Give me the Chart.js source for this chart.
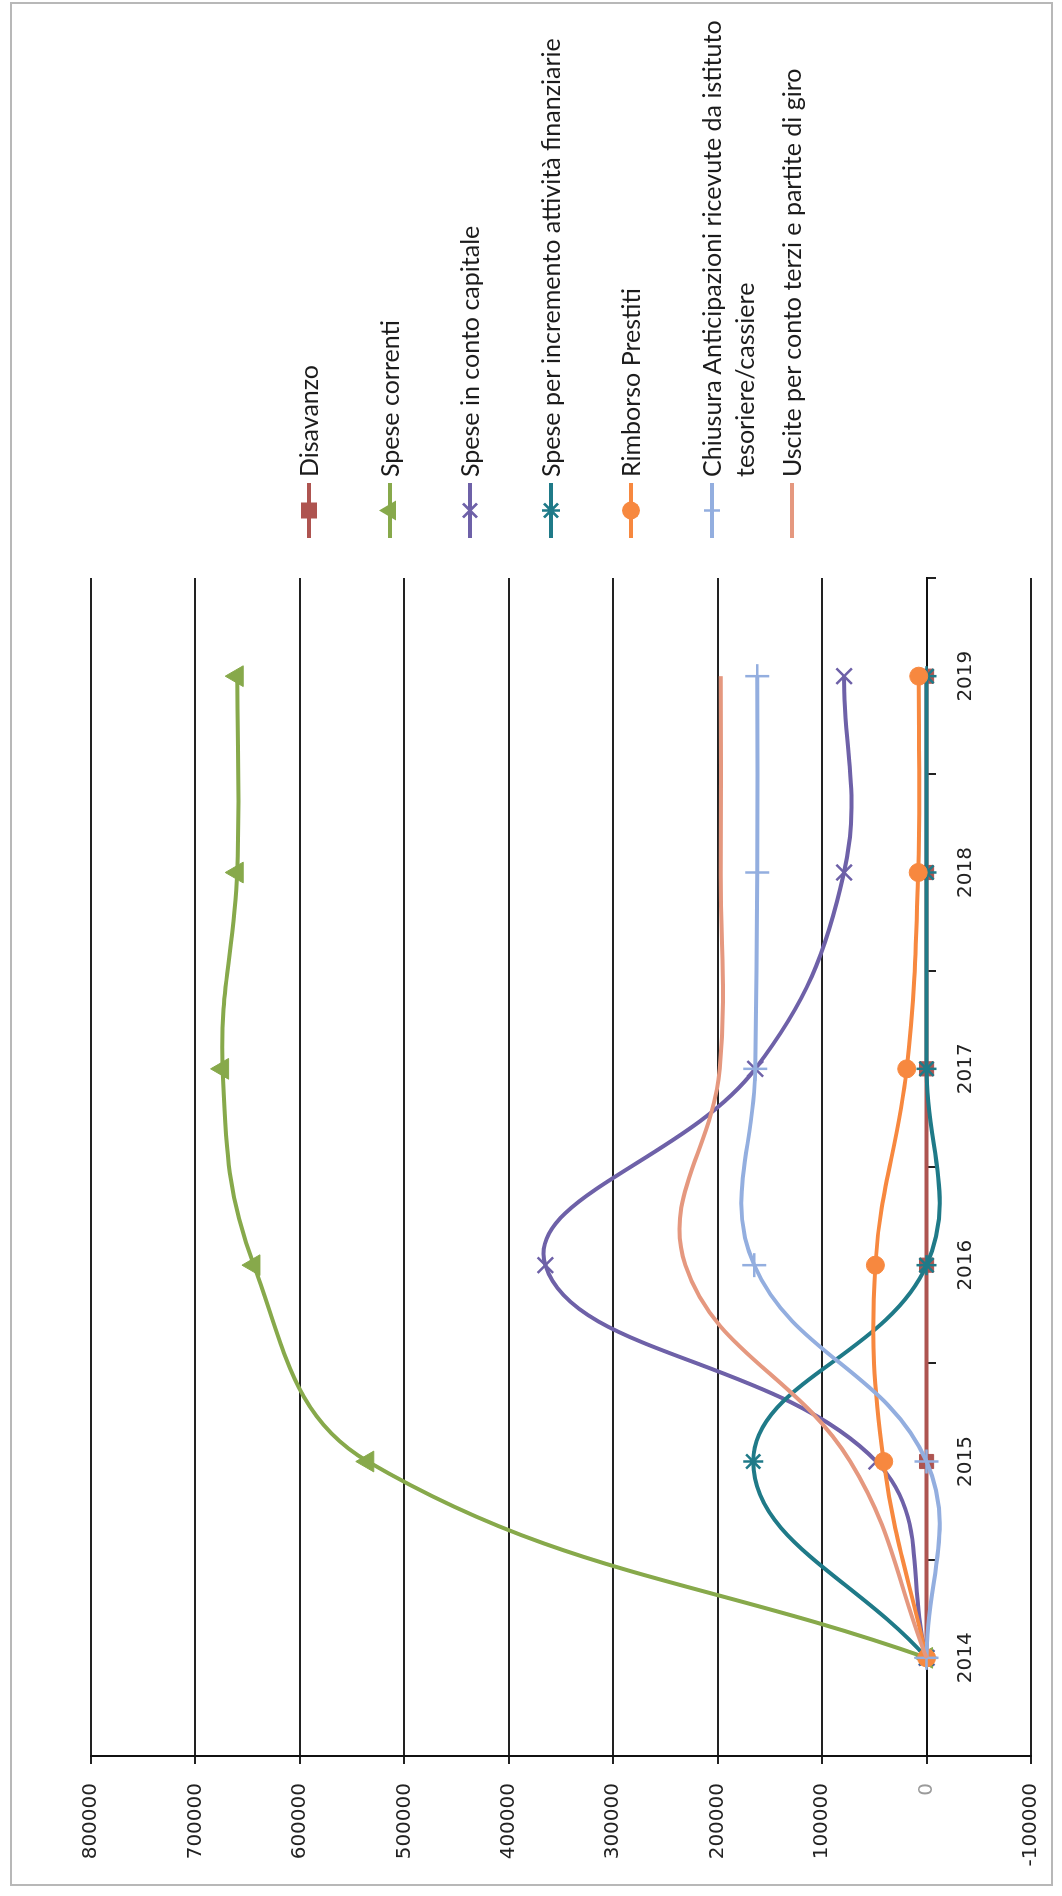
<!DOCTYPE html>
<html>
<head>
<meta charset="utf-8">
<script src="https://cdn.jsdelivr.net/npm/chart.js@4.4.1/dist/chart.umd.min.js"></script>
<style>
  html, body { margin: 0; padding: 0; background: #fff; }
  body { width: 1062px; height: 1896px; overflow: hidden; position: relative; }
  /* the chart is built landscape and turned a quarter turn, like the scanned page */
  #land { position: absolute; left: 0; top: 0; width: 1896px; height: 1062px;
          transform-origin: 0 0; transform: translateY(1896px) rotate(-90deg); }
  #frame { position: absolute; left: 10px; top: 10px; width: 1884px; height: 1043px;
           border: 2px solid #b8b8b8; box-sizing: border-box; }
  #chart { position: absolute; left: 0; top: 0; }
  .item { position: absolute; left: 1356px; height: 34px; font: 25px Lato, sans-serif;
          color: #1c1c1c; white-space: pre; line-height: 33px; }
  .item svg { position: absolute; left: 0; top: 0; }
  .item span { position: absolute; left: 63px; top: 0; }
</style>
</head>
<body>
<div id="land">
  <div id="frame"></div>
  <canvas id="chart" width="1896" height="1062"></canvas>
  <div id="legend"></div>
</div>
<script>
// data
var years = ['2014', '2015', '2016', '2017', '2018', '2019'];
var disavanzo = [0, 0, 0, 0, 0, 0];
var speseCorrenti = [0, 535000, 644000, 674000, 660000, 660000];
var speseContoCapitale = [0, 48000, 365000, 164000, 79000, 79000];
var speseAttivitaFinanziarie = [0, 166000, 0, 0, 0, 0];
var rimborsoPrestiti = [0, 41000, 49000, 19000, 8000, 7500];
var chiusuraAnticipazioni = [0, 0, 165000, 164000, 162000, 162000];
var usciteContoTerzi = [0, 73000, 231000, 198000, 197000, 197000];
var yTicks = [-100000, 0, 100000, 200000, 300000, 400000, 500000, 600000, 700000, 800000];

var names = [
  'Disavanzo',
  'Spese correnti',
  'Spese in conto capitale',
  'Spese per incremento attività finanziarie',
  'Rimborso Prestiti',
  'Chiusura Anticipazioni ricevute da istituto\ntesoriere/cassiere',
  'Uscite per conto terzi e partite di giro'
];
var series = [disavanzo, speseCorrenti, speseContoCapitale, speseAttivitaFinanziarie,
              rimborsoPrestiti, chiusuraAnticipazioni, usciteContoTerzi];

// styles
var colors = ['#AE5450', '#87A94B', '#6E61A8', '#1F7A88', '#F7883F', '#93AEDF', '#E5987F'];
var markers = ['rect', 'triangle', 'crossRot', 'star', 'circle', 'cross', 'circle'];
var markerSizes = [10, 12, 11, 10, 9, 12, 0];

var datasets = series.map(function(values, i) {
  var thin = markers[i] === 'crossRot' || markers[i] === 'star' || markers[i] === 'cross';
  return {
    label: names[i].replace('\n', ' '),
    data: values,
    borderColor: colors[i],
    backgroundColor: colors[i],
    borderWidth: 4,
    tension: 0.4,
    fill: false,
    pointStyle: markers[i],
    pointRadius: markerSizes[i],
    pointBackgroundColor: colors[i],
    pointBorderColor: colors[i],
    pointBorderWidth: thin ? 2.5 : 1,
    order: series.length - i   // later series on top, as in Excel
  };
});

var tickFont = { family: 'DejaVu Sans', size: 20 };

var config = {
  type: 'line',
  data: { labels: years, datasets: datasets },
  options: {
    responsive: false,
    animation: false,
    layout: { padding: { left: 0, right: 578, top: 91, bottom: 27 } },
    plugins: { legend: { display: false }, tooltip: { enabled: false } },
    scales: {
      x: {
        position: { y: 0 },
        offset: true,
        grid: { offset: true, drawOnChartArea: false, tickLength: 8, color: '#222', lineWidth: 2 },
        border: { color: '#111', width: 2 },
        ticks: { font: tickFont, color: '#222', padding: 19, maxRotation: 0, autoSkip: false },
        afterFit: function(scale) { scale.height = 0; }
      },
      y: {
        min: yTicks[0],
        max: yTicks[yTicks.length - 1],
        afterBuildTicks: function(scale) {
          scale.ticks = yTicks.map(function(v) { return { value: v }; });
        },
        grid: { color: '#222', lineWidth: 2, tickLength: 8 },
        border: { color: '#111', width: 2 },
        ticks: {
          font: tickFont,
          padding: 19,
          color: function(ctx) { return ctx.tick && ctx.tick.value === 0 ? '#9a9a9a' : '#222'; },
          callback: function(v) { return String(v); }
        },
        afterFit: function(scale) { scale.width = 140; }
      }
    }
  }
};

/* legend drawn as html so the two-line entry can wrap like the original */
function markerSvg(i) {
  var c = colors[i];
  var s = '<svg width="60" height="34" viewBox="0 0 60 34">';
  s += '<line x1="2" y1="17" x2="57" y2="17" stroke="' + c + '" stroke-width="4"/>';
  var cx = 29.5, cy = 17;
  switch (markers[i]) {
    case 'rect':
      s += '<rect x="' + (cx - 8) + '" y="' + (cy - 8) + '" width="16" height="16" fill="' + c + '"/>';
      break;
    case 'triangle':
      s += '<polygon points="' + cx + ',' + (cy - 11) + ' ' + (cx - 10) + ',' + (cy + 6) + ' ' + (cx + 10) + ',' + (cy + 6) + '" fill="' + c + '"/>';
      break;
    case 'crossRot':
      s += '<path d="M' + (cx - 7) + ' ' + (cy - 7) + 'L' + (cx + 7) + ' ' + (cy + 7) + 'M' + (cx + 7) + ' ' + (cy - 7) + 'L' + (cx - 7) + ' ' + (cy + 7) + '" stroke="' + c + '" stroke-width="2.5"/>';
      break;
    case 'star':
      s += '<path d="M' + cx + ' ' + (cy - 9) + 'L' + cx + ' ' + (cy + 9) + 'M' + (cx - 7) + ' ' + (cy - 7) + 'L' + (cx + 7) + ' ' + (cy + 7) + 'M' + (cx + 7) + ' ' + (cy - 7) + 'L' + (cx - 7) + ' ' + (cy + 7) + '" stroke="' + c + '" stroke-width="2.5"/>';
      break;
    case 'circle':
      if (markerSizes[i] > 0) s += '<circle cx="' + cx + '" cy="' + cy + '" r="9" fill="' + c + '"/>';
      break;
    case 'cross':
      s += '<line x1="' + cx + '" y1="' + (cy - 8) + '" x2="' + cx + '" y2="' + (cy + 8) + '" stroke="' + c + '" stroke-width="2.5"/>';
      break;
  }
  return s + '</svg>';
}

function buildLegend() {
  var box = document.getElementById('legend');
  names.forEach(function(name, i) {
    var item = document.createElement('div');
    item.className = 'item';
    item.style.top = (309 + i * 80.5 - 17) + 'px';
    item.innerHTML = markerSvg(i);
    var span = document.createElement('span');
    span.appendChild(document.createTextNode(name));
    item.appendChild(span);
    box.appendChild(item);
  });
}

buildLegend();
var ctx = document.getElementById('chart').getContext('2d');
window.lineChart = new Chart(ctx, config);
</script>
</body>
</html>
